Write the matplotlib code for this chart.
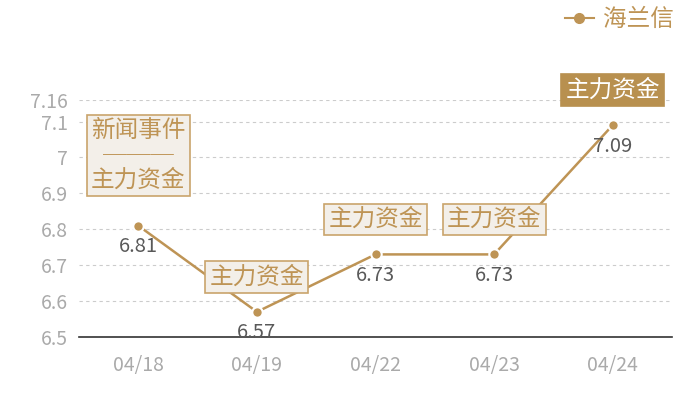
import matplotlib
matplotlib.use("Agg")
import matplotlib.pyplot as plt
from matplotlib.lines import Line2D

plt.rcParams['font.family'] = ['Noto Sans CJK SC', 'DejaVu Sans']

categories = ["04/18", "04/19", "04/22", "04/23", "04/24"]
values = [6.81, 6.57, 6.73, 6.73, 7.09]
series_name = "海兰信"
event_labels = ["新闻事件\n\u2500\u2500\u2500\n主力资金", "主力资金", "主力资金", "主力资金", "主力资金"]
highlight = [False, False, False, False, True]
y_ticks = [6.5, 6.6, 6.7, 6.8, 6.9, 7.0, 7.1, 7.16]
y_ticklabels = ["6.5", "6.6", "6.7", "6.8", "6.9", "7", "7.1", "7.16"]

LINE = "#BE9455"
BOX_FILL = "#F3EFE9"
BOX_EDGE = "#C9A46C"
DARK_FILL = "#B8904F"

fig = plt.figure(figsize=(7, 4), dpi=100)
ax = fig.add_axes([79/700, 1-337/400, (672-79)/700, (337-100)/400])

xs = [i + 0.5 for i in range(len(categories))]
ax.plot(xs, values, color=LINE, lw=1.8, marker='o', ms=7.5,
        markerfacecolor=LINE, markeredgecolor='white', markeredgewidth=1.5, zorder=3)

ax.set_xlim(0, len(categories))
ax.set_ylim(6.5, 7.16)
ax.set_yticks(y_ticks)
ax.set_yticklabels(y_ticklabels)
ax.set_xticks(xs)
ax.set_xticklabels(categories)
ax.tick_params(axis='both', length=0, colors='#AAAAAA', labelsize=14)
ax.tick_params(axis='x', pad=13)
ax.tick_params(axis='y', pad=8)
ax.grid(axis='y', linestyle=(0, (3, 3)), color='#CCCCCC', lw=0.8)
for s in ['left', 'right', 'top']:
    ax.spines[s].set_visible(False)
ax.spines['bottom'].set_color('#333333')
ax.spines['bottom'].set_linewidth(1.2)

for x, v in zip(xs, values):
    ax.annotate(f"{v:.2f}", (x, v), xytext=(0, -21), textcoords='offset pixels',
                ha='center', va='center', fontsize=14.5, color='#595959', zorder=4)

for x, v, lab, hl in zip(xs, values, event_labels, highlight):
    off = 70 if '\n' in lab else 35
    if hl:
        bb = dict(boxstyle='square,pad=0.18', fc=DARK_FILL, ec=DARK_FILL, lw=1.2)
        col = 'white'
    else:
        bb = dict(boxstyle='square,pad=0.18', fc=BOX_FILL, ec=BOX_EDGE, lw=1.2)
        col = LINE
    ax.annotate(lab, (x, v), xytext=(0, off), textcoords='offset pixels',
                ha='center', va='center', fontsize=17, color=col, bbox=bb,
                linespacing=1.1, zorder=5, annotation_clip=False)

handle = Line2D([], [], color=LINE, lw=1.5, marker='o', ms=7,
                markerfacecolor=LINE, markeredgecolor=LINE)
fig.legend([handle], [series_name], loc='upper right', bbox_to_anchor=(688/700, 1.015),
           frameon=False, fontsize=17, labelcolor=LINE, handlelength=1.2,
           handletextpad=0.4, borderaxespad=0.2)

fig.savefig("out.png", dpi=100)
